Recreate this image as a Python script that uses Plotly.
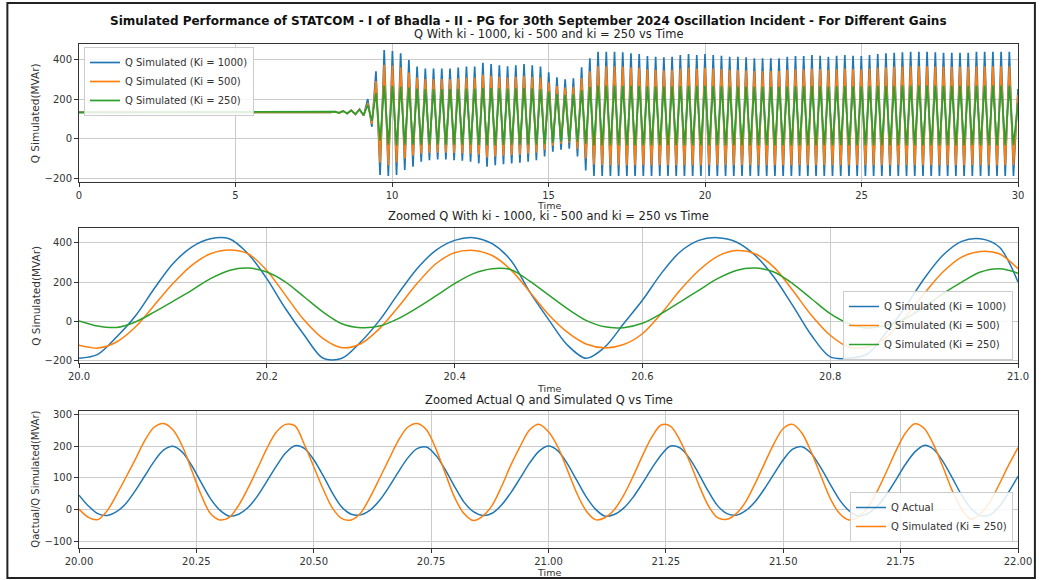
import plotly.graph_objects as go

# ---------------- data ----------------
# Full-run (0-30 s) oscillation, one peak and one trough per cycle
FLAT_LEVEL = 133
TOP_T0 = 8.174          # time of first (precursor) peak
TOP_PERIOD = 0.2628     # oscillation period in full-run panel
TOP_END_T = 30.0

BLUE_PEAKS = [137, 140, 144, 150,
              200, 340, 447, 442, 430, 396, 363, 354, 354, 354, 354, 358, 363, 363, 383, 376, 370, 365, 370,
              376, 370, 363, 334, 309, 299, 304, 360, 405, 438, 438, 438, 435, 430, 427, 417, 413, 410, 413,
              422, 427, 422, 427, 422, 418, 413, 413, 410, 405, 405, 405, 405, 413, 417, 417, 422, 418, 413,
              418, 422, 418, 417, 422, 427, 430, 433, 435, 438, 438, 438, 435, 433, 433, 433, 433, 438, 438,
              438, 438, 438]
BLUE_TROUGHS = [129, 126, 122, 115,
                60, -183, -188, -183, -158, -141, -116, -108, -104, -104, -108, -111, -116, -124, -141, -133,
                -129, -124, -121, -116, -108, -90, -65, -55, -50, -90, -160, -188] + [-188] * 51
ORANGE_PEAKS = [137, 139, 143, 148,
                180, 290, 372, 368, 360, 333, 308, 301, 301, 301, 301, 304, 308, 308, 322, 317, 312, 308, 312,
                317, 312, 308, 284, 265, 258, 262, 306, 340, 365, 365, 365, 363, 360, 357, 350, 347, 345, 347,
                354, 357, 354, 357, 354, 351, 347, 347, 345, 341, 341, 341, 341, 347, 350, 350, 354, 351, 347,
                351, 354, 351, 350, 354, 357, 360, 362, 363, 365, 365, 365, 363, 362, 362, 362, 362, 365, 365,
                365, 365, 365]
ORANGE_TROUGHS = [129, 127, 123, 117,
                  75, -120, -133, -120, -100, -86, -75, -72, -70, -70, -72, -74, -76, -80, -95, -90,
                  -86, -82, -80, -76, -70, -55, -35, -25, -20, -50, -100, -130] + [-133] * 51
GREEN_PEAKS = [136, 139, 142, 146,
               170, 230, 268, 266, 262, 258, 252, 250, 250, 250, 250, 251, 252, 252, 256, 255, 254, 252, 254,
               255, 254, 250, 238, 226, 220, 224, 245, 260, 268, 268, 268, 267, 266, 265, 264, 263, 263, 263,
               265, 266, 265, 266, 265, 264, 263, 263, 262, 261, 261, 261, 261, 263, 264, 264, 265, 264, 263,
               264, 265, 264, 264, 265, 266, 267, 267, 268, 268, 268, 268, 268, 267, 267, 267, 267, 268, 268,
               268, 268, 268]
GREEN_TROUGHS = [130, 128, 124, 119,
                 90, -10, -30, -32, -30, -30, -30, -30, -30, -30, -30, -30, -30, -31, -33, -32,
                 -31, -30, -30, -30, -30, -28, -20, -15, -12, -15, -25, -32] + [-32] * 51
END_VALUES = {"b": 250, "o": 220, "g": 180}

# Zoomed window 20-21 s (samples every 0.02 s)
Z_STEP = 0.02
Q_KI1000 = [-188, -168, -80, 27, 166, 293, 378, 420, 420, 344, 217, 64, -71, -188, -188, -105, 5, 141, 268,
            361, 412, 426, 395, 310, 150, 10, -120, -188, -131, -12, 107, 243, 353, 412, 426, 404, 336, 226,
            81, -71, -181, -188, -165, -54, 73, 217, 336, 407, 420, 378, 200]
Q_KI500 = [-122, -136, -105, -29, 81, 192, 285, 344, 363, 344, 259, 132, 5, -88, -134, -114, -37, 73, 192,
           293, 349, 361, 335, 262, 150, 35, -55, -115, -135, -118, -63, 39, 158, 259, 331, 360, 344, 276,
           158, 31, -71, -131, -131, -80, 22, 141, 251, 327, 356, 344, 268]
# 20-22 s (samples every 0.02 s)
Q_KI250 = [2, -24, -31, -3, 47, 102, 158, 217, 259, 271, 251, 200, 124, 47, -12, -32, -24, 14, 68, 129,
           192, 243, 268, 263, 205, 135, 65, 5, -28, -32, -10, 39, 98, 158, 217, 259, 271, 251, 192, 115,
           39, -12, -34, -20, 14, 73, 141, 200, 251, 268, 245,
           197, 126, 53, -3, -31, -25, 0, 45, 104, 169, 228, 266, 262, 218, 153, 79, 14, -25, -30, -12,
           25, 82, 145, 207, 255, 268, 240, 180, 107, 36, -12, -32, -22, 8, 58, 120, 185, 240, 270, 256,
           205, 135, 60, 2, -30, -12, 25, 80, 140, 195]
Q_ACTUAL = [46, 12, -12, -18, -6, 20, 60, 106, 152, 187, 199, 181, 139, 86, 35, -1, -20, -14, 7, 43,
            89, 136, 178, 201, 193, 157, 107, 52, 8, -14, -16, -1, 29, 71, 118, 162, 192, 197, 171, 126,
            73, 24, -6, -18, -11, 15, 54, 100, 147, 184, 200, 185, 145, 93, 41, 2, -20, -15, 5, 39,
            83, 130, 172, 200, 194, 162, 113, 59, 13, -12, -17, -3, 25, 66, 112, 157, 190, 198, 176, 132,
            80, 31, -3, -19, -12, 11, 48, 94, 142, 181, 202, 190, 152, 100, 46, 4, -18, -16, 10, 55, 105]

SUPTITLE = "Simulated Performance of STATCOM - I of Bhadla - II - PG for 30th September 2024 Oscillation Incident - For Different Gains"
TITLES = ["Q With ki - 1000, ki - 500 and ki = 250 vs Time",
          "Zoomed Q With ki - 1000, ki - 500 and ki = 250 vs Time",
          "Zoomed Actual Q and Simulated Q vs Time"]
NAMES = ["Q Simulated (Ki = 1000)", "Q Simulated (Ki = 500)", "Q Simulated (Ki = 250)", "Q Actual"]

# ---------------- build ----------------
C_B, C_O, C_G = "#1f77b4", "#ff7f0e", "#2ca02c"
FONT = "DejaVu Sans"


def envelope_series(peaks, troughs, end_val):
    xs, ys = [0.0, TOP_T0 - TOP_PERIOD / 2], [FLAT_LEVEL, FLAT_LEVEL]
    for k, (p, tr) in enumerate(zip(peaks, troughs)):
        tp = TOP_T0 + k * TOP_PERIOD
        xs += [tp, tp + TOP_PERIOD / 2]
        ys += [p, tr]
    xs.append(TOP_END_T)
    ys.append(end_val)
    return xs, ys


def grid(n, start=20.0):
    return [round(start + Z_STEP * i, 4) for i in range(n)]


fig = go.Figure()

for peaks, troughs, key, col, name in [(BLUE_PEAKS, BLUE_TROUGHS, "b", C_B, NAMES[0]),
                                       (ORANGE_PEAKS, ORANGE_TROUGHS, "o", C_O, NAMES[1]),
                                       (GREEN_PEAKS, GREEN_TROUGHS, "g", C_G, NAMES[2])]:
    x, y = envelope_series(peaks, troughs, END_VALUES[key])
    fig.add_trace(go.Scatter(x=x, y=y, mode="lines", name=name, line=dict(color=col, width=1.7),
                             xaxis="x", yaxis="y", legend="legend"))

for vals, col, name in [(Q_KI1000, C_B, NAMES[0]), (Q_KI500, C_O, NAMES[1]), (Q_KI250, C_G, NAMES[2])]:
    fig.add_trace(go.Scatter(x=grid(len(vals)), y=vals, mode="lines", name=name,
                             line=dict(color=col, width=1.5, shape="spline", smoothing=0.9),
                             xaxis="x2", yaxis="y2", legend="legend2"))

for vals, col, name in [(Q_ACTUAL, C_B, NAMES[3]), (Q_KI250, C_O, NAMES[2])]:
    fig.add_trace(go.Scatter(x=grid(len(vals)), y=vals, mode="lines", name=name,
                             line=dict(color=col, width=1.5, shape="spline", smoothing=0.9),
                             xaxis="x3", yaxis="y3", legend="legend3"))

# layout geometry (pixels)
W, H = 1044, 580
L, R, T, B = 79, 21, 44, 32
PW, PH = W - L - R, H - T - B


def py(p):
    return (H - B - p) / PH


def px(p):
    return (p - L) / PW


axis_common = dict(showline=True, linecolor="#333333", linewidth=1, mirror=True, ticks="outside",
                   ticklen=4, tickcolor="#333333", showgrid=True, gridcolor="#cbcbcb", gridwidth=1,
                   zeroline=False, tickfont=dict(family=FONT, size=10, color="#333333"))

fig.update_layout(
    width=W, height=H, margin=dict(l=L, r=R, t=T, b=B),
    paper_bgcolor="white", plot_bgcolor="white",
    font=dict(family=FONT, color="#222222"),
    xaxis=dict(domain=[0, 1], anchor="y", range=[0, 30], tickvals=[0, 5, 10, 15, 20, 25, 30], **axis_common),
    yaxis=dict(domain=[py(182), py(44)], anchor="x", range=[-218, 477], tickvals=[-200, 0, 200, 400], **axis_common),
    xaxis2=dict(domain=[0, 1], anchor="y2", range=[20, 21], tickvals=[20.0, 20.2, 20.4, 20.6, 20.8, 21.0],
                tickformat=".1f", **axis_common),
    yaxis2=dict(domain=[py(363), py(228)], anchor="x2", range=[-212, 475], tickvals=[-200, 0, 200, 400], **axis_common),
    xaxis3=dict(domain=[0, 1], anchor="y3", range=[20, 22], tickvals=[20.0, 20.25, 20.5, 20.75, 21.0, 21.25, 21.5, 21.75, 22.0],
                tickformat=".2f", **axis_common),
    yaxis3=dict(domain=[py(548), py(411)], anchor="x3", range=[-120, 310], tickvals=[-100, 0, 100, 200, 300], **axis_common),
    showlegend=True,
)

leg_common = dict(font=dict(family=FONT, size=10, color="#333333"), bgcolor="rgba(255,255,255,0.85)",
                  bordercolor="#cccccc", borderwidth=1, itemwidth=30, tracegroupgap=0)
fig.update_layout(
    legend=dict(x=px(84), y=py(47), xanchor="left", yanchor="top", **leg_common),
    legend2=dict(x=px(1018), y=py(360), xanchor="right", yanchor="bottom", **leg_common),
    legend3=dict(x=px(1018), y=py(542), xanchor="right", yanchor="bottom", **leg_common),
)

ann = []
ann.append(dict(text="<b>" + SUPTITLE + "</b>", x=px(531), y=py(21), xref="paper", yref="paper",
                showarrow=False, xanchor="center", yanchor="middle", font=dict(family=FONT, size=12, color="#111111")))
for t, yy in zip(TITLES, [34, 216, 400]):
    ann.append(dict(text=t, x=0.5, y=py(yy), xref="paper", yref="paper", showarrow=False,
                    xanchor="center", yanchor="middle", font=dict(family=FONT, size=11.5, color="#222222")))
for yy in [206, 388, 572]:
    ann.append(dict(text="Time", x=0.5, y=py(yy), xref="paper", yref="paper", showarrow=False,
                    xanchor="center", yanchor="middle", font=dict(family=FONT, size=9.5, color="#333333")))
for t, yy, fs in zip(["Q Simulated(MVAr)", "Q Simulated(MVAr)", "Qactual/Q Simulated(MVAr)"],
                     [113, 295.5, 479.5], [10.5, 10.5, 10]):
    ann.append(dict(text=t, x=px(35), y=py(yy), xref="paper", yref="paper", showarrow=False, textangle=-90,
                    xanchor="center", yanchor="middle", font=dict(family=FONT, size=fs, color="#333333")))
fig.update_layout(annotations=ann)

# outer frame
fig.add_shape(type="rect", xref="paper", yref="paper", x0=px(7), x1=px(1040), y0=py(578), y1=py(3),
              line=dict(color="#222222", width=2), fillcolor="rgba(0,0,0,0)", layer="above")

fig.write_html("out.html")
